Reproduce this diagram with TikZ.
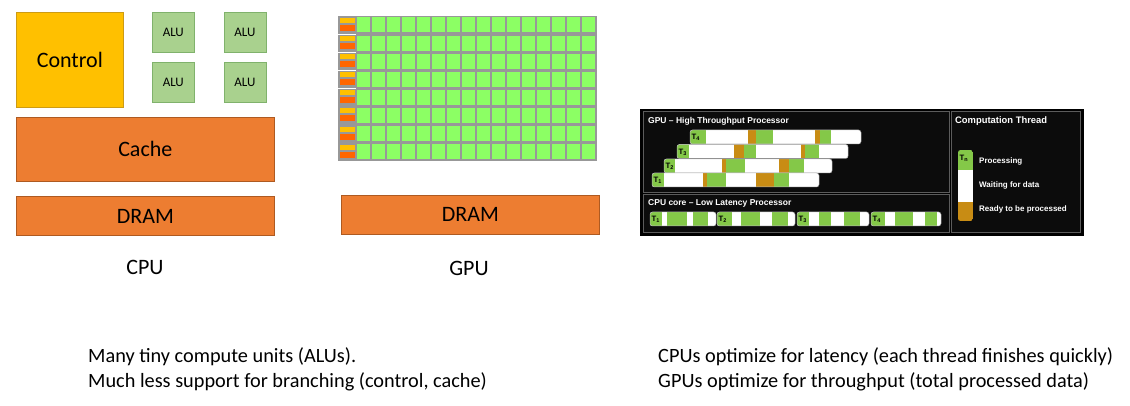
\documentclass[tikz,border=0pt]{standalone}
\usepackage{fontspec}
\setmainfont{Carlito}
\newfontfamily\panelfont{Liberation Sans}
\usetikzlibrary{positioning}
\definecolor{ctrlYellow}{RGB}{255,192,0}
\definecolor{ctrlEdge}{RGB}{205,155,20}
\definecolor{aluGreen}{RGB}{169,209,142}
\definecolor{aluEdge}{RGB}{128,178,108}
\definecolor{memOrange}{RGB}{237,125,49}
\definecolor{memEdge}{RGB}{174,90,33}
\definecolor{gridGray}{RGB}{152,152,152}
\definecolor{coreGreen}{RGB}{140,255,100}
\definecolor{coreYellow}{RGB}{255,192,0}
\definecolor{coreOrange}{RGB}{255,102,0}
\definecolor{thrGreen}{RGB}{132,200,72}
\definecolor{thrBrown}{RGB}{200,140,20}
\definecolor{panelEdge}{RGB}{92,92,92}
\definecolor{panelFill}{RGB}{12,12,12}
\tikzset{
  blk/.style={draw,line width=.6pt,inner sep=0pt,anchor=north west,text=black},
  memblk/.style={blk,draw=memEdge,fill=memOrange,minimum width=258pt,font=\fontsize{22}{24}\selectfont},
  alublk/.style={blk,draw=aluEdge,fill=aluGreen,minimum width=42pt,minimum height=40pt,font=\fontsize{13}{14}\selectfont},
  chiplabel/.style={font=\fontsize{22}{24}\selectfont,inner sep=0pt},
  note/.style={anchor=base west,inner sep=0pt,font=\fontsize{20.3}{22}\selectfont},
  ptitle/.style={anchor=base west,inner sep=0pt,text=white,font=\panelfont\bfseries\fontsize{8.5}{10}\selectfont},
  tlab/.style={anchor=west,inner sep=0pt,text=black,font=\panelfont\bfseries\fontsize{7.8}{8}\selectfont},
  panel/.style={draw=panelEdge,fill=panelFill,line width=1pt}
}
% #1 top, #2 left, #3 right, #4 name, #5 label, #6 coloured pieces
\newcommand{\threadbar}[6]{%
  \begin{scope}
    \clip[rounded corners=2.5pt] (#2,#1) rectangle (#3,{#1+14});
    \fill[white] (#2,#1) rectangle (#3,{#1+14});
    \foreach \a/\b/\c in {#6} \fill[\c] (\a,#1) rectangle (\b,{#1+14});
  \end{scope}
  \draw[gray!55,line width=.5pt,rounded corners=2.5pt] (#2,#1) rectangle (#3,{#1+14});
  \node[tlab] (#4) at ({#2+1.5},{#1+7.5}) {T\textsubscript{#5}};
}

\begin{document}
\begin{tikzpicture}[x=1pt,y=-1pt]
\useasboundingbox (0,0) rectangle (1130,406);

% CPU
\node[blk,draw=ctrlEdge,fill=ctrlYellow,minimum width=107pt,minimum height=95pt,font=\fontsize{22}{24}\selectfont] (control) at (16,12) {Control};
\node[alublk] (alu1) at (152,12) {ALU};
\node[alublk,right=29pt of alu1] (alu2) {ALU};
\node[alublk,below=9pt of alu1] (alu3) {ALU};
\node[alublk,below=9pt of alu2] (alu4) {ALU};
\node[memblk,minimum height=64pt,below right=9pt and 0pt of control.south west] (cache) {Cache};
\node[memblk,minimum height=39pt,below right=15pt and 0pt of cache.south west] (cpudram) {DRAM};
\node[chiplabel] (cpulbl) at (145,267) {CPU};

% GPU
\fill[gridGray] (338,16) rectangle (597,161);
\foreach \r in {0,...,7}{
  \fill[coreYellow] (339.5,{18+18.1*\r}) rectangle ++(15,5);
  \fill[coreOrange] (339.5,{25+18.1*\r}) rectangle ++(15,6);
  \foreach \c in {0,...,15}
    \fill[coreGreen] ({356.5+15*\c},{17.5+18.1*\r}) rectangle ++(13,15);
}
\foreach \r in {1,...,4}
  \draw[white,line width=1pt] (337,{16+18.1*\r}) -- ++(19,0);
\node[memblk,minimum height=39pt] (gpudram) at (341,195) {DRAM};
\node[chiplabel] (gpulbl) at (469,268) {GPU};

% threads
\fill[black] (640,109) rectangle (1084,236);
\draw[panel] (643,112) rectangle (949,193);
\draw[panel] (643,195) rectangle (949,233);
\draw[panel] (951,112) rectangle (1080,233);
\node[ptitle] (gputitle) at (648,123.5) {GPU – High Throughput Processor};
\node[ptitle] (cputitle) at (648,205.5) {CPU core – Low Latency Processor};
\node[ptitle,font=\panelfont\bfseries\fontsize{9.4}{11}\selectfont] (legtitle) at (955,124) {Computation Thread};

\threadbar{130}{690}{861}{g4}{4}{690/706/thrGreen,748/756/thrBrown,756/773/thrGreen,815/820/thrBrown,820/831/thrGreen}
\threadbar{144.5}{677}{848}{g3}{3}{677/689/thrGreen,734/744/thrBrown,744/756/thrGreen,801/805/thrBrown,805/819/thrGreen}
\threadbar{159}{664}{832}{g2}{2}{664/675/thrGreen,722/726/thrBrown,726/745/thrGreen,779/789/thrBrown,789/804/thrGreen}
\threadbar{173}{652}{819}{g1}{1}{652/664/thrGreen,703/707/thrBrown,707/726/thrGreen,756/774/thrBrown,774/789/thrGreen}

\threadbar{212}{650}{716}{c1}{1}{650/662/thrGreen,667/687/thrGreen,693/708/thrGreen}
\threadbar{212}{717}{795}{c2}{2}{717/732/thrGreen,741/760/thrGreen,772/788/thrGreen}
\threadbar{212}{797}{869}{c3}{3}{797/809/thrGreen,819/831/thrGreen,844/860/thrGreen}
\threadbar{212}{871}{941}{c4}{4}{871/885/thrGreen,895/913/thrGreen,925/937/thrGreen}

% legend
\begin{scope}
  \clip[rounded corners=2.5pt] (958,150) rectangle (973,221);
  \fill[thrGreen] (958,150) rectangle (973,170);
  \fill[white] (958,170) rectangle (973,202);
  \fill[thrBrown] (958,202) rectangle (973,221);
\end{scope}
\node[tlab] (legtn) at (959.5,158) {T\textsubscript{n}};
\node[ptitle,font=\panelfont\bfseries\fontsize{8}{10}\selectfont] (legproc) at (979,163.3) {Processing};
\node[ptitle,font=\panelfont\bfseries\fontsize{8}{10}\selectfont] (legwait) at (979,187.7) {Waiting for data};
\node[ptitle,font=\panelfont\bfseries\fontsize{8}{10}\selectfont] (legready) at (979,211.7) {Ready to be processed};

% notes
\node[note] (note1) at (88,362) {Many tiny compute units (ALUs).};
\node[note] (note2) at (88,387) {Much less support for branching (control, cache)};
\node[note] (note3) at (658,362) {CPUs optimize for latency (each thread finishes quickly)};
\node[note] (note4) at (658,387) {GPUs optimize for throughput (total processed data)};
\end{tikzpicture}
\end{document}
